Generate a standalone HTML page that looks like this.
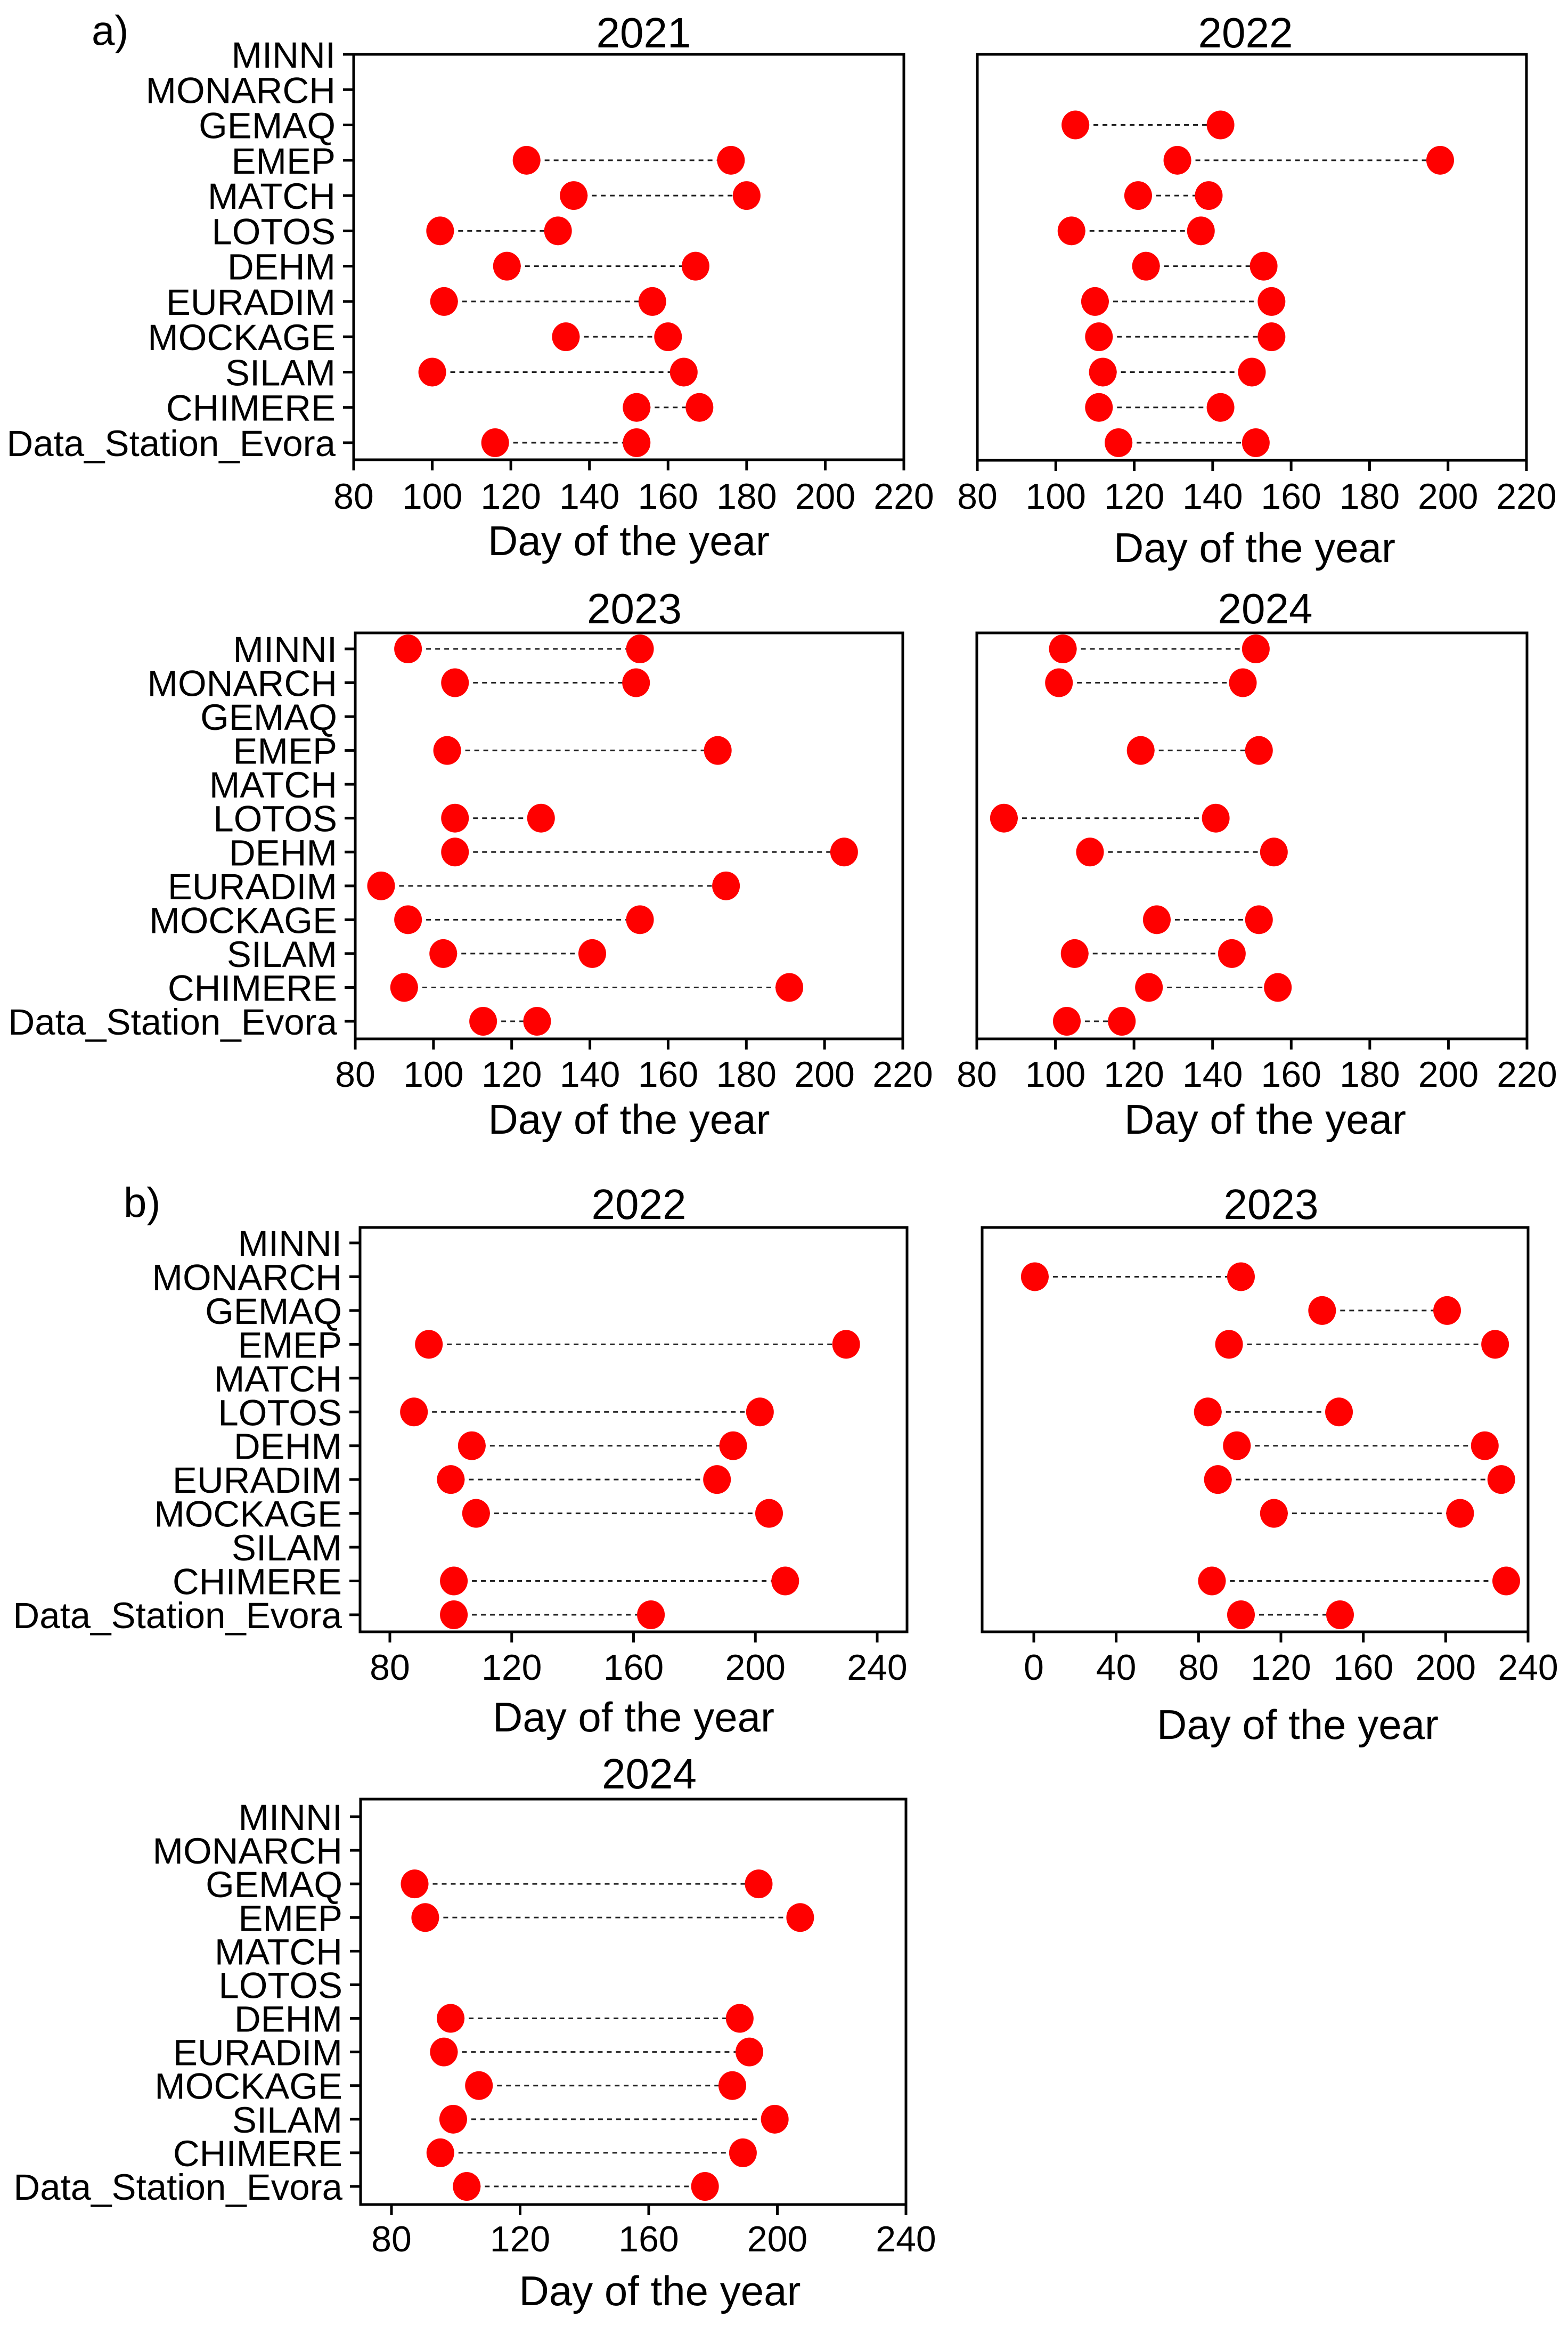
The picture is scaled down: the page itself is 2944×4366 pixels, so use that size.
<!DOCTYPE html>
<html><head><meta charset="utf-8">
<style>
html,body{margin:0;padding:0;background:#fff;}
svg{display:block;font-family:"Liberation Sans",Arial,sans-serif;}
</style></head>
<body>
<svg id="chart" xmlns="http://www.w3.org/2000/svg" width="2944" height="4366" viewBox="0 0 2944 4366">
<rect width="2944" height="4366" fill="#fff"/>
<text x="172" y="84" font-size="78">a)</text>
<text x="232" y="2284" font-size="78">b)</text>
</svg>
<script>
const models = ["MINNI","MONARCH","GEMAQ","EMEP","MATCH","LOTOS","DEHM","EURADIM","MOCKAGE","SILAM","CHIMERE","Data_Station_Evora"];

const ticksA = [80,100,120,140,160,180,200,220];
const ticksB = [80,120,160,200,240];
const ticksB23 = [0,40,80,120,160,200,240];

const a2021Start = [null,null,null,124,136,102,119,103,134,100,152,116];
const a2021End   = [null,null,null,176,180,132,167,156,160,164,168,152];

const a2022Start = [null,null,105,131,121,104,123,110,111,112,111,116];
const a2022End   = [null,null,142,198,139,137,153,155,155,150,142,151];

const a2023Start = [93.5,105.5,null,103.5,null,105.5,105.5,86.6,93.5,102.5,92.5,112.7];
const a2023End   = [152.8,151.8,null,172.7,null,127.5,205,174.8,152.8,140.6,191,126.5];

const a2024Start = [101.9,100.9,null,121.7,null,86.9,108.8,null,125.8,104.9,123.8,102.9];
const a2024End   = [151,147.7,null,151.8,null,140.8,155.6,null,151.8,144.9,156.6,116.9];

const b2022Start = [null,null,null,92.8,null,87.9,106.9,100,108.3,null,101,101];
const b2022End   = [null,null,null,229.8,null,201.5,192.7,187.4,204.5,null,209.8,165.7];

const b2023Start = [null,0.5,140,94.8,null,84.5,98.6,89.4,116.6,null,86.5,100.6];
const b2023End   = [null,100.6,200.7,224,null,148.2,219,227,207,null,229.4,148.7];

const b2024Start = [null,null,87.2,90.5,null,null,98.4,96.3,107.2,99.2,95.2,103.4];
const b2024End   = [null,null,194.2,207.1,null,null,188.3,191.3,186,199.2,189.3,177.5];

const NS = "http://www.w3.org/2000/svg";
const svg = document.getElementById("chart");
function mk(tag, attrs, parent){
  const e = document.createElementNS(NS, tag);
  for (const k in attrs) e.setAttribute(k, attrs[k]);
  (parent||svg).appendChild(e);
  return e;
}

function panel(cfg, starts, ends){
  const g = mk("g", {});
  
  
  const xs = v => cfg.x0 + (v - cfg.d0) * (cfg.x1 - cfg.x0) / (cfg.d1 - cfg.d0);
  const ys = i => cfg.r0 + i * (cfg.r1 - cfg.r0) / (models.length - 1);
  const t = mk("text", {x:(cfg.L+cfg.R)/2 + (cfg.tdx||0), y:cfg.titleY, "font-size":80, "text-anchor":"middle"}, g);
  t.textContent = cfg.title;
  
  
  const f = mk("rect", {x:cfg.L, y:cfg.T, width:cfg.R-cfg.L, height:cfg.B-cfg.T, fill:"none", stroke:"#000", "stroke-width":5}, g);
  
  
  cfg.ticks.forEach(v => {
    const x = xs(v);
    const tk = mk("line", {x1:x, x2:x, y1:cfg.B, y2:cfg.B+20, stroke:"#000", "stroke-width":5}, g);
    
    
    const tl = mk("text", {x:x, y:cfg.tickY, "font-size":68, "text-anchor":"middle"}, g);
    tl.textContent = v;
    
    
  });
  const xl = mk("text", {x:(cfg.L+cfg.R)/2 + (cfg.xdx||0), y:cfg.xlabY, "font-size":78, "text-anchor":"middle"}, g);
  xl.textContent = "Day of the year";
  
  
  if (cfg.ylabels){
    models.forEach((m,i) => {
      const y = ys(i);
      const tk = mk("line", {x1:cfg.L-20, x2:cfg.L, y1:y, y2:y, stroke:"#000", "stroke-width":5}, g);
      
      
      const tl = mk("text", {x:cfg.L-34, y:y+25, "font-size":69, "text-anchor":"end"}, g);
      tl.textContent = m;
      
      
    });
  }
  models.forEach((m,i) => {
    if (starts[i] == null || ends[i] == null) return;
    const y = ys(i);
    const ln = mk("line", {x1:xs(starts[i]), x2:xs(ends[i]), y1:y, y2:y, stroke:"#222", "stroke-width":3, "stroke-dasharray":"9 8"}, g);
    
    
    [starts[i], ends[i]].forEach((v,k) => {
      const c = mk("ellipse", {cx:xs(v), cy:y, rx:26, ry:27, fill:"#ff0000"}, g);
      
      
    });
  });
}

panel({id:"a-2021", title:"2021", L:664, R:1697, T:102, B:863, r0:102, r1:831, x0:664, x1:1697, d0:80, d1:220, ticks:ticksA, titleY:89, tickY:955, xlabY:1042, ylabels:true, tdx:28, xdx:0}, a2021Start, a2021End);
panel({id:"a-2022", title:"2022", L:1835, R:2866, T:102, B:864, r0:102, r1:831, x0:1835, x1:2866, d0:80, d1:220, ticks:ticksA, titleY:89, tickY:955, xlabY:1055, ylabels:false, tdx:-12, xdx:5}, a2022Start, a2022End);
panel({id:"a-2023", title:"2023", L:667, R:1695, T:1188, B:1950, r0:1218, r1:1917, x0:667, x1:1695, d0:80, d1:220, ticks:ticksA, titleY:1170, tickY:2040, xlabY:2128, ylabels:true, tdx:10, xdx:0}, a2023Start, a2023End);
panel({id:"a-2024", title:"2024", L:1834, R:2867, T:1188, B:1950, r0:1218, r1:1917, x0:1834, x1:2867, d0:80, d1:220, ticks:ticksA, titleY:1170, tickY:2040, xlabY:2128, ylabels:false, tdx:25, xdx:25}, a2024Start, a2024End);
panel({id:"b-2022", title:"2022", L:676, R:1703, T:2304, B:3063, r0:2333, r1:3031, x0:732, x1:1647, d0:80, d1:240, ticks:ticksB, titleY:2288, tickY:3153, xlabY:3250, ylabels:true, tdx:10, xdx:0}, b2022Start, b2022End);
panel({id:"b-2023", title:"2023", L:1844, R:2869, T:2304, B:3063, r0:2333, r1:3031, x0:1941, x1:2869, d0:0, d1:240, ticks:ticksB23, titleY:2288, tickY:3153, xlabY:3264, ylabels:false, tdx:30, xdx:80}, b2023Start, b2023End);
panel({id:"b-2024", title:"2024", L:677, R:1701, T:3377, B:4138, r0:3410, r1:4104, x0:735, x1:1701, d0:80, d1:240, ticks:ticksB, titleY:3357, tickY:4226, xlabY:4327, ylabels:true, tdx:30, xdx:50}, b2024Start, b2024End);
</script>
</body></html>
